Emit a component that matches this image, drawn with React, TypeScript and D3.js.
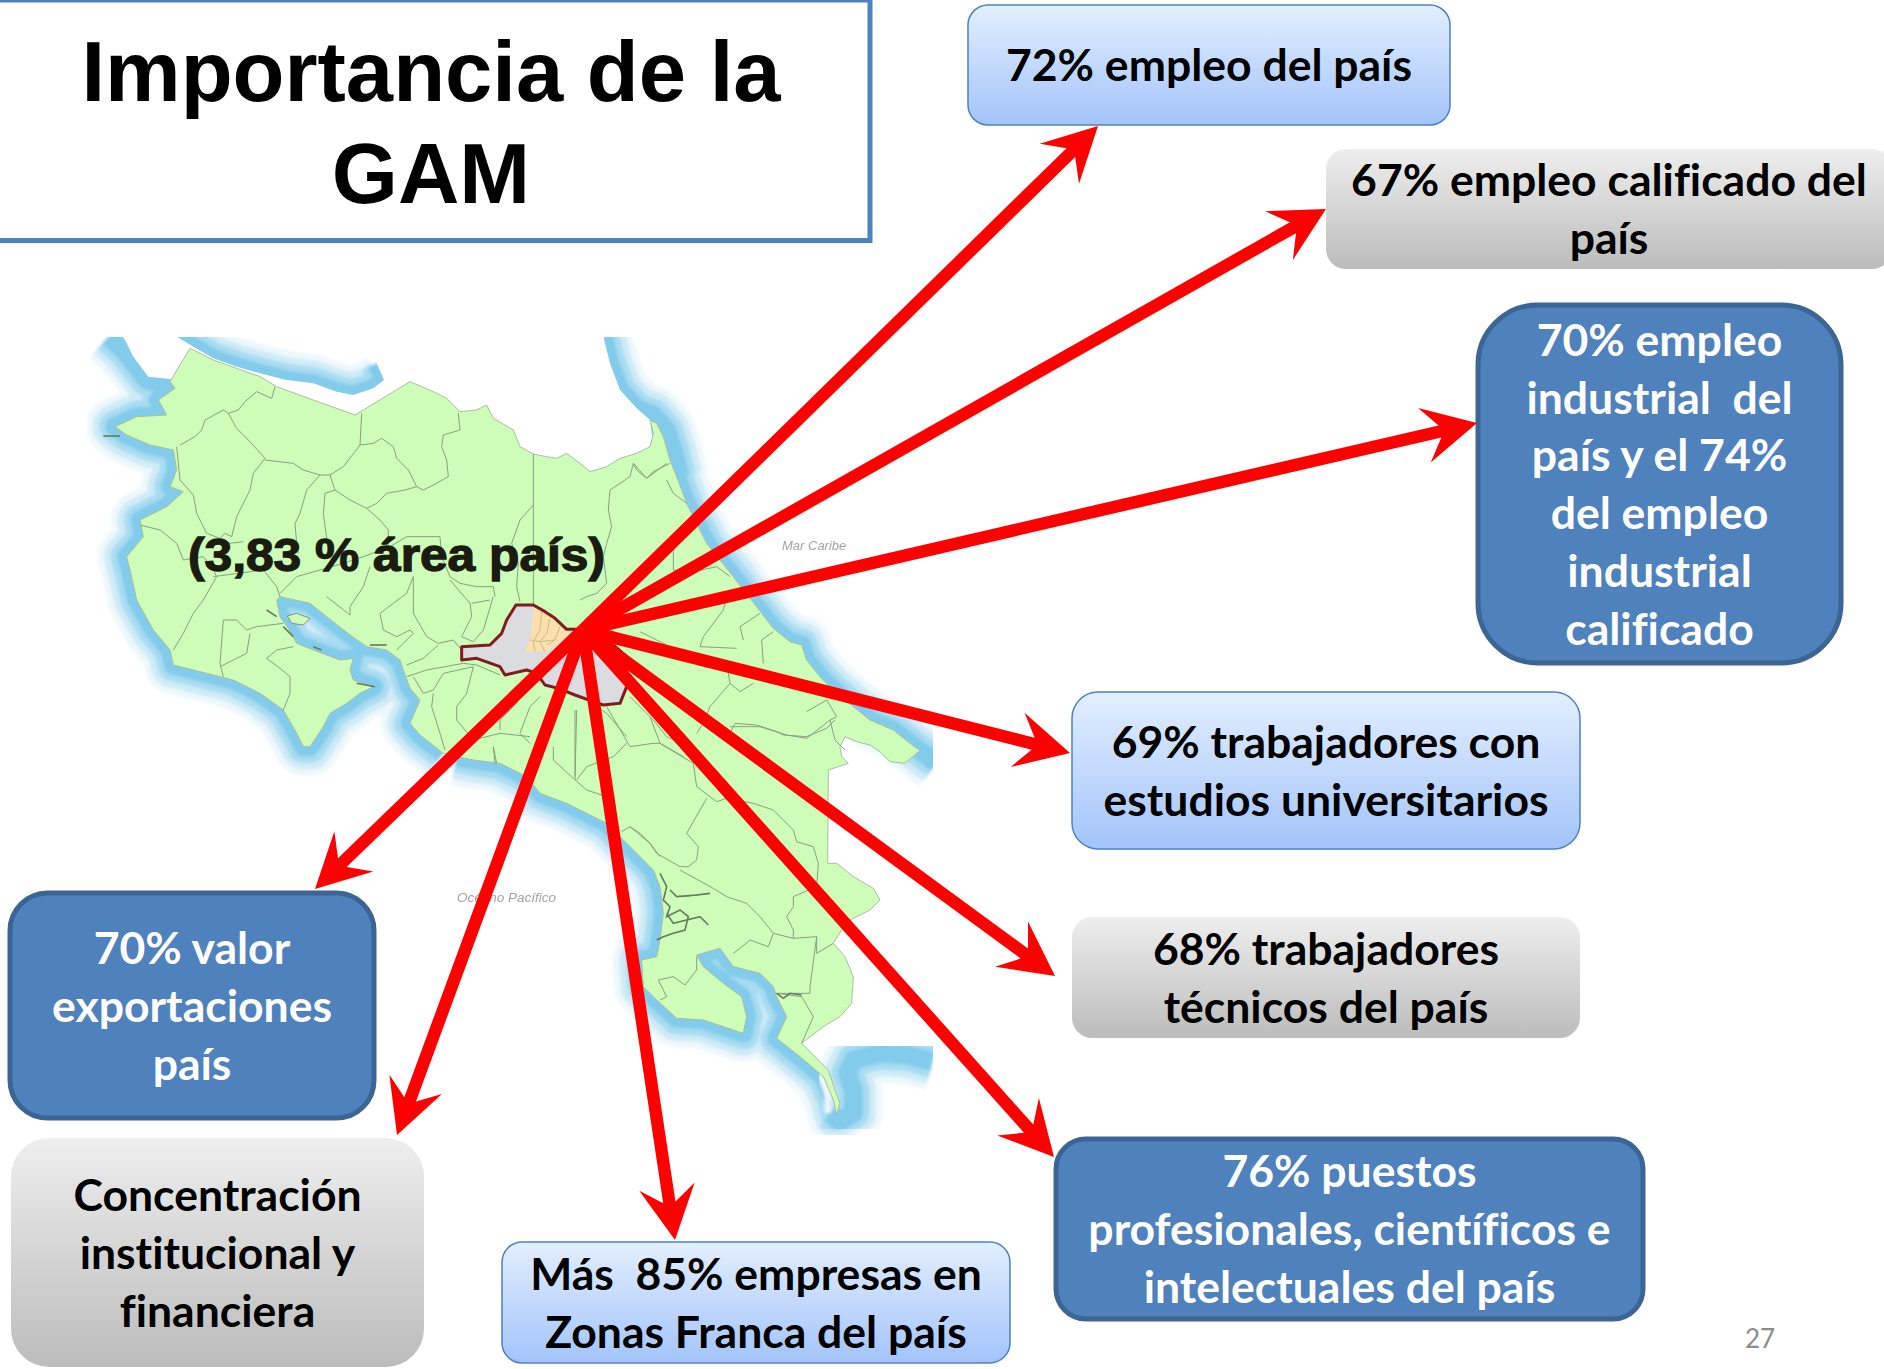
import { useEffect, useRef } from "react";
import * as d3 from "d3";

const W = 1884;
const H = 1369;

// slide text
const titleLines = ["Importancia de la", "GAM"];
const boxLabels = [
  ["72% empleo del país"],
  ["67% empleo calificado del", "país"],
  ["70% empleo", "industrial  del", "país y el 74%", "del empleo", "industrial", "calificado"],
  ["69% trabajadores con", "estudios universitarios"],
  ["68% trabajadores", "técnicos del país"],
  ["76% puestos", "profesionales, científicos e", "intelectuales del país"],
  ["Más  85% empresas en", "Zonas Franca del país"],
  ["Concentración", "institucional y", "financiera"],
  ["70% valor", "exportaciones", "país"],
];
const boxTones = ["light", "gray", "dark", "light", "gray", "dark", "light", "gray", "dark"];
// x0, y0, x1, y1
const boxFrames = [
  [968, 5, 1450, 125],
  [1326, 149, 1892, 269],
  [1478, 305, 1841, 663],
  [1072, 692, 1580, 849],
  [1072, 917, 1580, 1038],
  [1056, 1139, 1643, 1319],
  [502, 1242, 1010, 1363],
  [11, 1138, 424, 1367],
  [10, 893, 374, 1118],
];

// arrows all leave the same point in the GAM
const arrowHub = [583, 630];
const arrowTips = [
  [1098, 126],
  [1326, 209],
  [1477, 423],
  [1070, 753],
  [1055, 976],
  [1054, 1157],
  [675, 1240],
  [397, 1135],
  [315, 889],
];

// map traces, in the coordinates of three crops of the picture
const landNorth = [[330, 55], [400, 90], [470, 115], [540, 140], [590, 170], [700, 210], [825, 255], [850, 240], [990, 155], [1060, 185], [1100, 205], [1140, 245], [1190, 240], [1220, 225], [1240, 265], [1300, 300], [1320, 350], [1360, 372], [1400, 380], [1430, 385], [1460, 370], [1500, 400]];
const landNorthEast = [[450, 425], [500, 410], [540, 385], [590, 370], [630, 350], [640, 310], [630, 270]];
const caribbean = [[630, 270], [650, 280], [670, 320], [690, 390], [710, 440], [740, 520], [770, 580], [800, 640], [840, 690], [880, 740], [910, 780], [950, 830], [1000, 895], [1050, 935], [1085, 945], [1100, 990], [1140, 1040], [1190, 1090], [1240, 1130], [1290, 1170], [1360, 1200], [1410, 1240], [1440, 1262]];
const caribbeanEnd = [[1490, 1300]];
const bocasInlet = [[1430, 1270], [1395, 1300], [1350, 1295], [1320, 1265], [1290, 1245], [1250, 1235], [1215, 1220], [1200, 1250], [1205, 1280], [1225, 1300]];
const panamaBorder = [[1165, 210], [1163, 490], [1190, 490], [1240, 530], [1300, 565], [1320, 600], [1290, 630], [1230, 660], [1205, 690], [1180, 730], [1215, 770], [1240, 830], [1235, 910], [1200, 950], [1150, 980], [1085, 1030]];
const pacificSouth = [[1085, 1030], [1130, 1075], [1165, 1110], [1185, 1170], [1200, 1210], [1190, 1245], [1180, 1200], [1150, 1130], [1080, 1070], [1010, 1015], [1040, 950], [1010, 890], [1000, 860], [960, 820], [880, 800], [840, 745], [770, 765], [790, 800], [850, 850], [905, 890], [920, 950], [910, 1000], [850, 980], [790, 960], [710, 955], [650, 900], [610, 860], [605, 780], [650, 770], [660, 720], [670, 640], [660, 560], [640, 510], [580, 450], [500, 370], [440, 340], [380, 310], [300, 280], [260, 230], [180, 190], [100, 180], [50, 170]];
const pacificWest = [[1090, 1270], [1020, 1215], [990, 1180], [1020, 1110], [990, 1075], [970, 1020], [960, 990], [920, 960], [860, 950], [810, 915], [740, 860], [690, 820], [600, 800], [590, 810], [600, 860], [625, 895], [650, 940], [700, 960], [780, 990], [820, 985], [810, 1020], [820, 1050], [880, 1070], [840, 1090], [800, 1120], [750, 1150], [730, 1190], [690, 1250], [670, 1250], [650, 1210], [610, 1140], [540, 1090], [460, 1050], [380, 1030], [280, 1005], [270, 960], [220, 900], [170, 810], [150, 720], [140, 680], [190, 620], [180, 570], [260, 530], [310, 485], [270, 470], [290, 420], [280, 360], [210, 345], [140, 315], [105, 290], [170, 260], [260, 255], [235, 210], [285, 175], [270, 155]];

const nicaraguaBay = [[85, 20], [130, 60], [170, 110], [200, 150], [270, 165]];
const nicaraguaBayShore = [[130, 20], [160, 80], [205, 140], [280, 148], [330, 55], [290, 20]];
const lakeShore = [[290, 20], [340, 50], [400, 85], [470, 110], [540, 130], [620, 150], [700, 160], [770, 185], [820, 195], [880, 175], [912, 150], [890, 100], [890, 20]];
const nicaraguaCaribbean = [[490, 20], [510, 100], [540, 180], [590, 235], [640, 255], [680, 300], [700, 360], [720, 440]];
const nicaraguaCoastLand = [[490, 20], [510, 100], [540, 180], [590, 235], [630, 270], [640, 350], [420, 420], [150, 340], [140, 20]];
const panamaPacific = [[1478, 1085], [1400, 1065], [1320, 1060], [1240, 1080], [1222, 1120], [1240, 1170], [1240, 1240], [1200, 1265], [1170, 1240]];
const panamaGap = [[1085, 1030], [1130, 1075], [1165, 1110], [1190, 1150], [1200, 1090], [1230, 1050], [1300, 1035], [1478, 1035], [1478, 880], [1240, 830]];
const nicoyaIsland = [[622, 858], [650, 850], [690, 865], [670, 885], [635, 880]];

const bordersWest = [
  [[585, 170], [575, 205], [530, 185], [495, 215], [475, 240], [445, 250], [430, 240], [375, 270], [365, 300], [345, 320], [300, 345]],
  [[445, 250], [470, 295], [510, 335], [555, 385], [520, 430], [510, 480], [470, 560], [455, 620], [435, 610], [420, 625]],
  [[555, 390], [640, 400], [670, 420], [720, 435], [750, 435], [790, 410], [840, 345], [845, 250]],
  [[840, 345], [880, 340], [905, 325], [940, 350], [950, 385], [985, 420], [1010, 470], [1030, 480], [1060, 465], [1105, 440], [1100, 390], [1085, 350], [1090, 315], [1140, 300], [1135, 250]],
  [[720, 435], [680, 480], [660, 550], [645, 580], [650, 640], [655, 670]],
  [[750, 435], [765, 480], [735, 490], [730, 550], [742, 640]],
  [[765, 480], [810, 510], [860, 535], [890, 520], [920, 490], [975, 480], [1010, 470]],
  [[860, 535], [900, 570], [925, 600], [925, 650]],
  [[1360, 372], [1360, 825]],
  [[1360, 525], [1320, 570], [1295, 640], [1315, 700], [1310, 770], [1320, 815]],
  [[290, 350], [300, 450], [340, 495], [350, 550], [380, 610], [420, 625], [450, 640], [490, 635]],
  [[180, 585], [240, 600], [290, 640], [310, 690], [370, 680], [400, 720], [410, 740], [370, 810], [340, 850], [310, 910], [280, 960]],
  [[400, 740], [550, 720], [590, 770], [600, 800]],
  [[600, 790], [650, 740], [720, 720], [790, 700], [850, 680], [930, 650], [980, 620], [1080, 620], [1085, 680], [1110, 740], [1140, 760], [1190, 770], [1240, 770], [1245, 800]],
  [[870, 710], [850, 770], [810, 830], [810, 855], [740, 800]],
  [[1000, 740], [980, 790], [900, 850], [910, 900], [950, 920], [990, 900], [1000, 910], [950, 960]],
  [[1000, 740], [1000, 850], [1040, 920], [1075, 940], [1120, 930], [1145, 960]],
  [[1110, 750], [1170, 820], [1175, 860], [1145, 920], [1180, 935], [1210, 900], [1240, 800]],
  [[1175, 820], [1230, 810]],
  [[980, 1005], [1030, 985], [1075, 945]],
  [[980, 1040], [1040, 1020], [1150, 1000], [1190, 1005], [1260, 1035]],
  [[1000, 1040], [1030, 1090], [1060, 1080], [1090, 1030], [1180, 1010], [1160, 1090], [1130, 1130], [1130, 1170], [1180, 1230], [1260, 1210], [1350, 1220]],
  [[1060, 1090], [1055, 1130], [1080, 1210], [1095, 1260]],
  [[1260, 1200], [1260, 1170], [1310, 1120], [1330, 1060]],
  [[1380, 1100], [1350, 1130], [1320, 1210], [1350, 1240]],
  [[1240, 1250], [1250, 1300]],
  [[430, 870], [470, 870], [500, 900], [530, 890], [610, 880]],
  [[430, 870], [420, 1000], [430, 1040]],
  [[510, 910], [500, 970], [420, 1010]],
  [[640, 950], [590, 960], [560, 985], [600, 1015], [630, 1040], [630, 1090], [610, 1140]],
];
const bordersEast = [
  [[510, 480], [505, 540], [515, 590], [500, 640], [490, 680], [500, 760], [470, 790], [440, 800], [420, 810]],
  [[510, 480], [570, 440], [580, 400], [620, 445], [640, 425], [690, 400]],
  [[680, 450], [700, 490], [740, 520]],
  [[700, 640], [700, 720], [760, 725], [830, 710], [870, 740]],
  [[960, 850], [900, 890], [910, 930]],
  [[1000, 905], [965, 930], [970, 1000]],
  [[860, 1000], [870, 1060], [900, 1085], [940, 1060]],
  [[890, 955], [780, 950], [790, 920], [850, 840], [860, 800]],
  [[600, 905], [680, 945]],
  [[870, 1060], [810, 1130], [790, 1180], [770, 1210]],
  [[870, 1190], [960, 1190], [1040, 1215], [1100, 1225], [1170, 1170], [1190, 1160], [1160, 1110], [1100, 1145]],
  [[1170, 1170], [1185, 1230], [1215, 1260]],
  [[410, 1140], [405, 1350]],
  [[440, 1110], [500, 1150], [560, 1220]],
  [[570, 1100], [640, 1170], [680, 1220], [770, 1260], [810, 1350]],
  [[500, 1130], [570, 1250], [640, 1240], [660, 1240], [730, 1280]],
  [[580, 400], [590, 420], [620, 445], [680, 400]],
];
const bordersSouth = [
  [[630, 50], [660, 130], [760, 190], [770, 260], [830, 305], [860, 295]],
  [[800, 295], [740, 400], [775, 440], [770, 480], [745, 500], [720, 500], [650, 460], [630, 430], [570, 380], [545, 395]],
  [[860, 295], [940, 310], [1000, 330], [1060, 390], [1070, 425], [1120, 440], [1135, 490], [1130, 560]],
  [[720, 510], [820, 565], [860, 590], [920, 610], [960, 650], [1000, 700], [1060, 715], [1130, 710], [1110, 860], [1110, 880], [1040, 880], [1010, 880]],
  [[1130, 560], [1060, 590], [1060, 620], [1040, 650], [1060, 690], [1060, 715]],
  [[1130, 710], [1130, 760], [1180, 730]],
  [[1000, 700], [985, 740], [930, 720], [900, 745], [880, 760]],
  [[730, 590], [810, 580]],
  [[770, 770], [770, 810], [735, 855], [700, 830], [655, 840], [680, 890], [660, 900]],
  [[1010, 880], [1085, 890], [1120, 950], [1085, 1030]],
  [[340, 140], [340, 180], [400, 235], [440, 270], [500, 290]],
  [[405, 30], [405, 230]],
  [[410, 240], [440, 200], [520, 170], [560, 130]],
  [[870, 100], [885, 70], [950, 75], [1010, 95], [1030, 105], [1100, 110], [1160, 85], [1185, 60]],
  [[570, 380], [600, 400], [630, 430], [660, 470]],
  [[160, 140], [165, 190]],
];
const mangroves = [
  [[660, 520], [680, 560], [670, 600], [690, 620], [680, 650], [720, 630], [745, 650], [735, 690], [700, 700], [670, 710], [650, 720]],
  [[690, 570], [710, 590], [770, 585], [810, 580]],
  [[680, 640], [700, 670], [740, 660], [780, 650], [805, 675]],
  [[1010, 880], [1030, 895], [1050, 880], [1085, 885]],
];
const squigglesWest = [
  [[560, 840], [590, 860]],
  [[610, 890], [640, 920]],
  [[700, 950], [725, 960]],
  [[870, 945], [920, 945]],
  [[830, 1060], [885, 1070]],
  [[70, 318], [120, 318]],
];

const gamOutline = [[258, 105], [310, 105], [345, 125], [375, 145], [410, 178], [440, 178], [480, 200], [510, 220], [550, 225], [590, 260], [590, 350], [570, 400], [520, 405], [490, 395], [435, 375], [385, 355], [345, 345], [320, 310], [290, 300], [225, 315], [210, 290], [140, 265], [95, 270], [95, 230], [180, 225], [215, 190], [230, 150]];
const gamCore = [[310, 108], [345, 125], [375, 145], [410, 178], [420, 190], [390, 215], [350, 245], [285, 245], [300, 210], [305, 170]];
const gamCoreLines = [
  [[335, 125], [330, 180], [310, 215], [315, 245]],
  [[360, 145], [350, 190], [330, 215], [345, 245]],
  [[390, 170], [375, 210], [350, 225]],
  [[300, 210], [330, 215], [375, 210]],
];

const sheetScale = (x0: number, x1: number, y0: number, y1: number, domX = 1500, domY = 1350) => ({
  x: d3.scaleLinear().domain([0, domX]).range([x0, x1]),
  y: d3.scaleLinear().domain([0, domY]).range([y0, y1]),
});
const sheetW = sheetScale(80, 580, 330, 780);
const sheetE = sheetScale(440, 940, 330, 780);
const sheetS = sheetScale(440, 940, 700, 1150);
const sheetG = sheetScale(430, 660, 570, 730, 690, 480);

const place = (sheet: any, pts: number[][]) => pts.map(([x, y]) => [sheet.x(x), sheet.y(y)]);

const App = () => {
  const ref = useRef<SVGSVGElement>(null);

  useEffect(() => {
    const svg = d3.select(ref.current);
    svg.selectAll("*").remove();

    const line = d3.line().curve(d3.curveLinear);
    const closed = d3.line().curve(d3.curveLinearClosed);

    const defs = svg.append("defs");
    const addGradient = (id: string, top: string, bottom: string) => {
      const g = defs.append("linearGradient").attr("id", id).attr("x1", 0).attr("y1", 0).attr("x2", 0).attr("y2", 1);
      g.append("stop").attr("offset", "0%").attr("stop-color", top);
      g.append("stop").attr("offset", "100%").attr("stop-color", bottom);
    };
    addGradient("light", "#e3eeff", "#a3c4fa");
    addGradient("gray", "#eeeeee", "#bcbcbc");
    defs.append("filter").attr("id", "soft").append("feGaussianBlur").attr("stdDeviation", 1.6);
    defs.append("filter").attr("id", "photo").append("feGaussianBlur").attr("stdDeviation", 0.45);
    defs.append("clipPath").attr("id", "mapClip").append("rect")
      .attr("x", 87).attr("y", 337).attr("width", 846).attr("height", 798);
    defs.append("clipPath").attr("id", "lakeClip").append("path")
      .attr("d", closed(place(sheetW, lakeShore)));

    // title box
    svg.append("rect")
      .attr("x", -6).attr("y", 0).attr("width", 876).attr("height", 240.5)
      .attr("fill", "white").attr("stroke", "#4f81bd").attr("stroke-width", 5);
    svg.append("g").selectAll("text").data(titleLines).join("text")
      .attr("x", 431)
      .attr("y", (_, i) => (i === 0 ? 100.7 : 203))
      .attr("text-anchor", "middle")
      .attr("font-family", "Liberation Sans")
      .attr("font-weight", "bold")
      .attr("font-size", 85)
      .text((d) => d);

    // map
    const map = svg.append("g").attr("clip-path", "url(#mapClip)");

    const haloSteps = [
      { width: 58, color: "#eef8fc" },
      { width: 45, color: "#cfebf7" },
      { width: 32, color: "#a9dcf2" },
      { width: 19, color: "#83cbeb" },
    ];
    const coastHalo = (parent: any, paths: number[][][]) => {
      const g = parent.append("g").attr("filter", "url(#soft)").attr("fill", "none").attr("stroke-linejoin", "round");
      haloSteps.forEach((s) => {
        g.append("g").selectAll("path").data(paths).join("path")
          .attr("d", (d: any) => line(d))
          .attr("stroke", s.color)
          .attr("stroke-width", s.width);
      });
    };

    coastHalo(map, [
      place(sheetE, nicaraguaCaribbean),
      place(sheetE, [...caribbean, ...caribbeanEnd]),
      place(sheetS, pacificSouth),
      place(sheetW, pacificWest),
      place(sheetW, nicaraguaBay),
    ]);

    // Nicaragua and Panama land are the blank page
    map.append("g").attr("fill", "white").selectAll("path")
      .data([place(sheetE, nicaraguaCoastLand), place(sheetW, nicaraguaBayShore), place(sheetS, panamaGap)])
      .join("path").attr("d", (d: any) => closed(d));

    coastHalo(map.append("g").attr("clip-path", "url(#lakeClip)"), [place(sheetW, lakeShore.slice(0, 12))]);
    coastHalo(map, [place(sheetS, panamaPacific)]);

    const land = [
      ...place(sheetW, landNorth),
      ...place(sheetE, landNorthEast),
      ...place(sheetE, caribbean),
      ...place(sheetE, bocasInlet),
      ...place(sheetS, panamaBorder),
      ...place(sheetS, pacificSouth),
      ...place(sheetW, pacificWest),
    ];
    const inner = map.append("g").attr("filter", "url(#photo)");
    inner.append("path")
      .attr("d", closed(land))
      .attr("fill", "#cdfdb8")
      .attr("stroke", "#a9bd9f")
      .attr("stroke-width", 1);
    inner.append("path")
      .attr("d", closed(place(sheetW, nicoyaIsland)))
      .attr("fill", "#cdfdb8").attr("stroke", "#7f947a");

    const borders = [
      ...bordersWest.map((b) => place(sheetW, b)),
      ...bordersEast.map((b) => place(sheetE, b)),
      ...bordersSouth.map((b) => place(sheetS, b)),
    ];
    inner.append("g").attr("fill", "none").attr("stroke", "#86a07f").attr("stroke-width", 1)
      .selectAll("path").data(borders).join("path").attr("d", (d: any) => line(d));
    inner.append("g").attr("fill", "none").attr("stroke", "#66785f").attr("stroke-width", 1.6)
      .selectAll("path").data([...mangroves.map((b) => place(sheetS, b)), ...squigglesWest.map((b) => place(sheetW, b))])
      .join("path").attr("d", (d: any) => line(d));

    // GAM area
    inner.append("path")
      .attr("d", closed(place(sheetG, gamOutline)))
      .attr("fill", "#dcdce0");
    inner.append("path").attr("d", closed(place(sheetG, gamCore))).attr("fill", "#fddfae");
    inner.append("g").attr("fill", "none").attr("stroke", "#c8bd8c").attr("stroke-width", 1)
      .selectAll("path").data(gamCoreLines.map((b) => place(sheetG, b))).join("path").attr("d", (d: any) => line(d));
    inner.append("path")
      .attr("d", closed(place(sheetG, gamOutline)))
      .attr("fill", "none").attr("stroke", "#7e1a20").attr("stroke-width", 3).attr("stroke-linejoin", "round");

    // map labels
    svg.append("text")
      .attr("x", 188).attr("y", 571)
      .attr("textLength", 417).attr("lengthAdjust", "spacingAndGlyphs")
      .attr("font-family", "Liberation Sans").attr("font-weight", "bold").attr("font-size", 46)
      .attr("fill", "#1b1b10").attr("stroke", "#1b1b10").attr("stroke-width", 1.3)
      .text("(3,83 % área país)");
    svg.append("g").selectAll("text")
      .data([
        { label: "Mar Caribe", x: 782, y: 550, size: 13 },
        { label: "Océano Pacífico", x: 457, y: 902, size: 13.5 },
      ])
      .join("text")
      .attr("x", (d) => d.x).attr("y", (d) => d.y)
      .attr("font-family", "Liberation Sans").attr("font-style", "italic").attr("font-size", (d) => d.size)
      .attr("fill", "#a2a2a2").attr("filter", "url(#photo)")
      .text((d) => d.label);

    // boxes
    const boxes = svg.append("g").selectAll("g").data(boxFrames).join("g");
    boxes.append("rect")
      .attr("x", (d) => d[0]).attr("y", (d) => d[1])
      .attr("width", (d) => d[2] - d[0]).attr("height", (d) => d[3] - d[1])
      .attr("rx", (d) => Math.min(d[2] - d[0], d[3] - d[1]) / 6)
      .attr("fill", (_, i) => (boxTones[i] === "dark" ? "#4f81bd" : `url(#${boxTones[i]})`))
      .attr("stroke", (_, i) => (boxTones[i] === "dark" ? "#3d6593" : boxTones[i] === "light" ? "#4f81bd" : "none"))
      .attr("stroke-width", (_, i) => (boxTones[i] === "dark" ? 5 : 1.5));
    boxes.each(function (d, i) {
      const lines = boxLabels[i];
      const cx = (d[0] + d[2]) / 2;
      const cy = (d[1] + d[3]) / 2;
      d3.select(this).selectAll("text").data(lines).join("text")
        .attr("x", cx)
        .attr("y", (_, k) => cy + 16.2 + (k - (lines.length - 1) / 2) * 57.8)
        .attr("text-anchor", "middle")
        .style("white-space", "pre")
        .style("font-variant-ligatures", "none")
        .attr("font-family", "Lato")
        .attr("font-weight", "bold")
        .attr("font-size", 44.5)
        .attr("fill", boxTones[i] === "dark" ? "white" : "black")
        .text((t) => t);
    });

    // arrows
    const shaftHalf = 6.2;
    const headHalf = 28;
    const headBack = 54;
    const notchBack = 38;
    const arrowShape = (tip: number[]) => {
      const [hx, hy] = arrowHub;
      const len = Math.hypot(tip[0] - hx, tip[1] - hy);
      const ux = (tip[0] - hx) / len;
      const uy = (tip[1] - hy) / len;
      const at = (back: number, side: number) => [tip[0] - ux * back - uy * side, tip[1] - uy * back + ux * side];
      return [
        at(len, shaftHalf),
        at(notchBack, shaftHalf),
        at(headBack, headHalf),
        tip,
        at(headBack, -headHalf),
        at(notchBack, -shaftHalf),
        at(len, -shaftHalf),
      ];
    };
    svg.append("g").attr("fill", "#ff0000").selectAll("path").data(arrowTips).join("path")
      .attr("d", (d) => closed(arrowShape(d) as any));

    // page number
    svg.append("text")
      .attr("x", 1760).attr("y", 1348)
      .attr("text-anchor", "middle")
      .attr("font-family", "Lato").attr("font-size", 26).attr("fill", "#8b8b8b")
      .text("27");
  }, []);

  return (
    <svg
      ref={ref}
      width={W}
      height={H}
      viewBox={`0 0 ${W} ${H}`}
      style={{ position: "absolute", left: 0, top: 0, background: "white" }}
    />
  );
};

export default App;
